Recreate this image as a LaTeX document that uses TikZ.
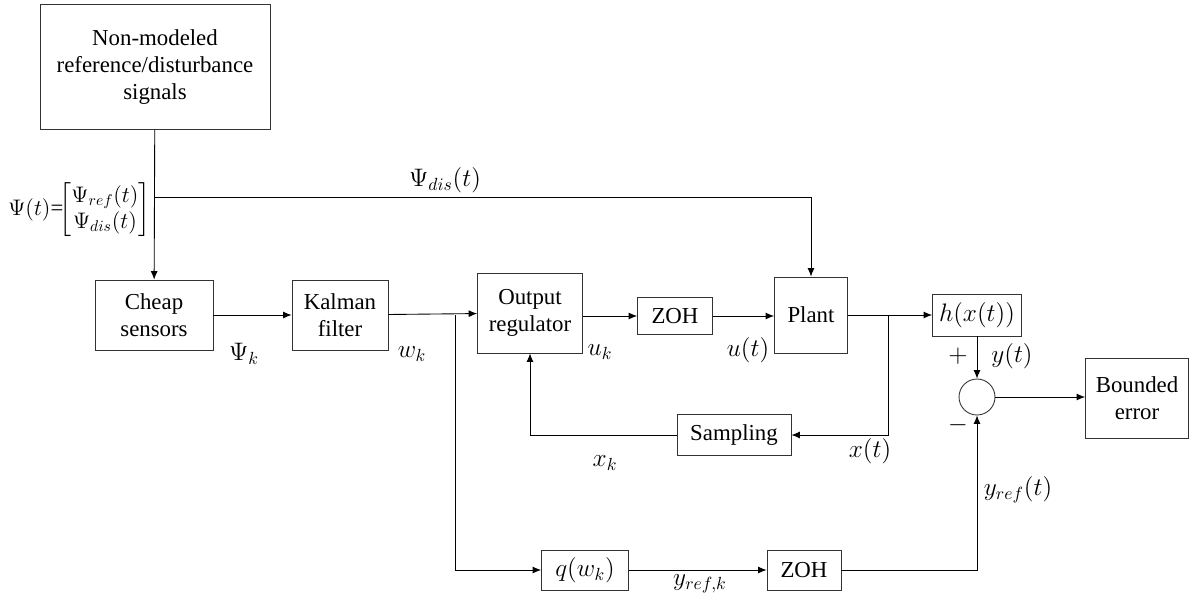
\documentclass[tikz,border=0pt]{standalone}
\usepackage{amsmath}
\usepackage{graphicx}
\usepackage{fontspec}
\setmainfont{Liberation Serif}
\newfontfamily\tnrfont{Liberation Serif}
\usetikzlibrary{arrows.meta}
\begin{document}
\begin{tikzpicture}[x=0.02cm,y=-0.02cm,
    font=\tnrfont\fontsize{13}{15.3}\selectfont,
    block/.style={draw=black!80,line width=0.5pt,align=center,inner sep=2pt},
    arr/.style={-{Latex[length=1.7mm,width=1.4mm]},line width=0.5pt},
    lbl/.style={font=\fontsize{14.5}{17}\selectfont,inner sep=1pt}]
    \useasboundingbox (0,0) rectangle (1189,599);

    \node[block,minimum width=4.6cm,minimum height=2.5cm] (sig) at (155,67) {Non-modeled\\reference/disturbance\\signals};
    \node[block,minimum width=2.36cm,minimum height=1.4cm] (cheap) at (154,315) {Cheap\\sensors};
    \node[block,minimum width=1.92cm,minimum height=1.4cm] (kalman) at (340,315) {Kalman\\filter};
    \node[block,minimum width=2.1cm,minimum height=1.6cm] (reg) at (530,313) {Output\\regulator};
    \node[block,minimum width=1.5cm,minimum height=0.74cm] (zoh) at (675,316) {ZOH};
    \node[block,minimum width=1.46cm,minimum height=1.52cm] (plant) at (811,315) {Plant};
    \node[block,lbl,minimum width=1.78cm,minimum height=0.84cm] (h) at (977,315) {$h(x(t))$};
    \node[draw=black!80,line width=0.5pt,circle,minimum size=0.72cm] (sum) at (977,397) {};
    \node[block,minimum width=2.06cm,minimum height=1.6cm] (bound) at (1137,398) {Bounded\\error};
    \node[block,minimum width=2.28cm,minimum height=0.82cm] (samp) at (734,435) {Sampling};
    \node[block,lbl,minimum width=1.74cm,minimum height=0.8cm] (q) at (585,570) {$q(w_k)$};
    \node[block,minimum width=1.48cm,minimum height=0.8cm] (zohb) at (804,570) {ZOH};

    \coordinate (psibr) at (155,197);
    \coordinate (wbr) at (455,315);
    \coordinate (xbr) at (888,315);

    \draw[arr] (sig) -- (cheap);
    \draw[arr] (psibr) -| (plant.north);
    \draw[arr] (cheap) -- (kalman);
    \draw[arr] (kalman) -- (reg);
    \draw[arr] (wbr) |- (q.west);
    \draw[arr] (reg.east |- zoh) -- (zoh);
    \draw[arr] (zoh) -- (plant.west |- zoh);
    \draw[arr] (plant) -- (h);
    \draw[arr] (xbr) |- (samp.east);
    \draw[arr] (samp.west) -| (reg.south);
    \draw[arr] (h) -- (sum);
    \draw[arr] (sum) -- (bound.west |- sum);
    \draw[arr] (q) -- (zohb);
    \draw[arr] (zohb.east) -| (sum.south);

    \node[lbl,anchor=west,inner sep=0pt] (psilbl) at (8,210) {\resizebox{2.84cm}{!}{\setlength{\arraycolsep}{1pt}$\Psi(t)$=$\!\begin{bmatrix}\Psi_{ref}(t)\\ \Psi_{dis}(t)\end{bmatrix}$}};
    \node[lbl] (psidis) at (445,180) {$\Psi_{dis}(t)$};
    \node[lbl] (psik) at (244,354) {$\Psi_k$};
    \node[lbl] (wk) at (412,354) {$w_k$};
    \node[lbl] (uk) at (600,352) {$u_k$};
    \node[lbl] (ut) at (748,350) {$u(t)$};
    \node[lbl] (xt) at (870,451) {$x(t)$};
    \node[lbl] (xk) at (605,463) {$x_k$};
    \node[lbl] (plus) at (958,356) {$+$};
    \node[lbl] (yt) at (1012,356) {$y(t)$};
    \node[lbl] (minus) at (958,425) {$-$};
    \node[lbl] (yref) at (1018,490) {$y_{ref}(t)$};
    \node[lbl] (yrefk) at (700,584) {$y_{ref,k}$};
\end{tikzpicture}
\end{document}
